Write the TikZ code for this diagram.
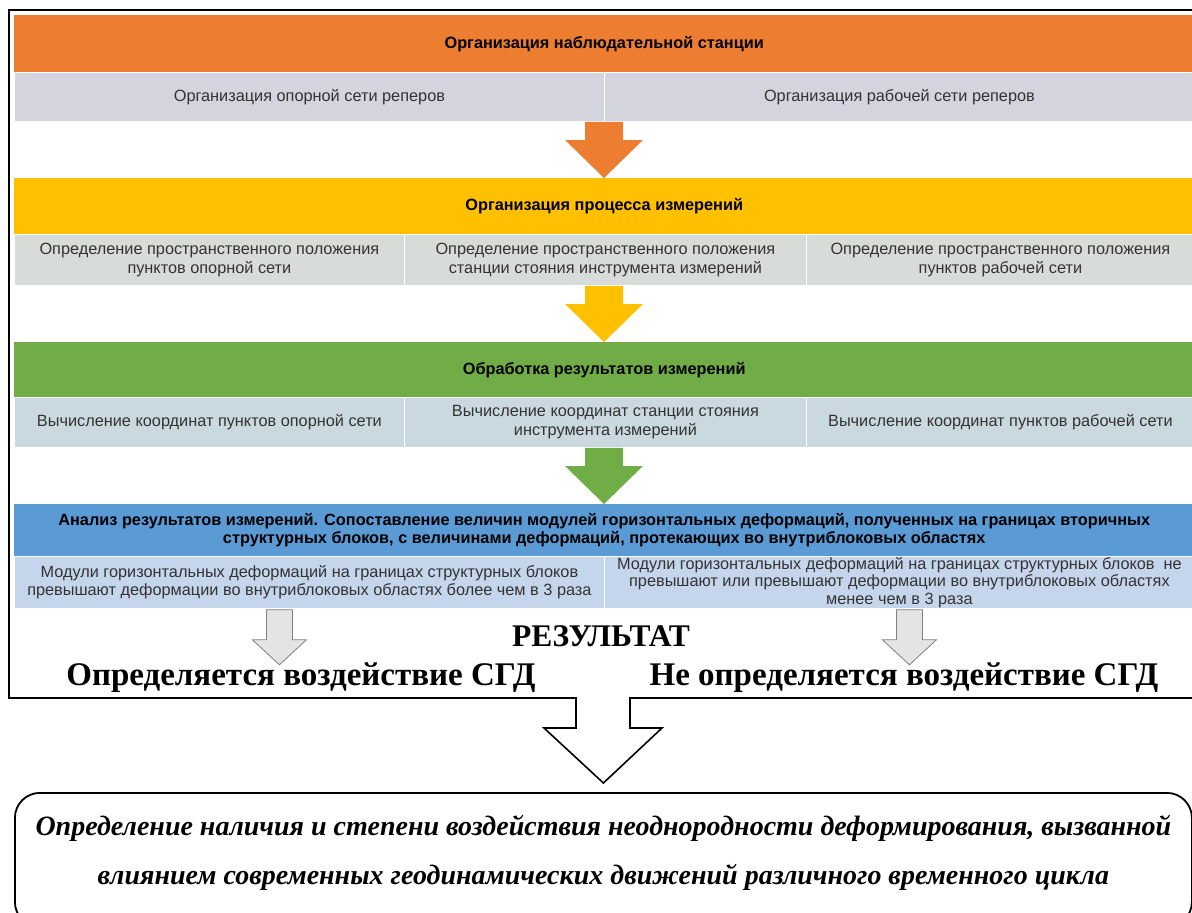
\documentclass[tikz,border=0pt]{standalone}
\usepackage{fontspec}
\setmainfont{Liberation Serif}
\setsansfont{Liberation Sans}
\usepackage{tikz}
\usetikzlibrary{calc}
\definecolor{orgorange}{HTML}{ED7D31}
\definecolor{orgyellow}{HTML}{FFC000}
\definecolor{orggreen}{HTML}{70AD47}
\definecolor{orgblue}{HTML}{5B9BD5}
\definecolor{rowlav}{HTML}{D3D4DD}
\definecolor{rowgrey}{HTML}{D8DCD9}
\definecolor{rowteal}{HTML}{CAD9E0}
\definecolor{rowblue}{HTML}{C5D6EC}
\definecolor{arrgrey}{HTML}{E4E4E4}
\tikzset{band/.style={anchor=north west, inner sep=0pt, minimum width=1180, align=center,
   font=\sffamily\bfseries\fontsize{16.3}{18.5}\selectfont},
 cell/.style={anchor=north west, draw=white, line width=0.8pt, inner sep=0pt, align=center,
   text=black!80, font=\sffamily\fontsize{16.3}{19}\selectfont},
 verdict/.style={font=\bfseries\fontsize{33}{36}\selectfont},
 smallarrow/.style={fill=arrgrey, draw=black!50, line width=0.8pt},
 frame/.style={draw=black, line width=1.6pt},
 }

\begin{document}
\begin{tikzpicture}[x=1pt, y=-1pt]
        \useasboundingbox (0,0) rectangle (1192,913);
        % stage 1
        \node[band, fill=orgorange, minimum height=57] (station) at (14,15) {Организация наблюдательной станции};
        \node[cell, fill=rowlav, minimum width=590, minimum height=49] (refnet) at (14,72) {Организация опорной сети реперов};
        \node[cell, fill=rowlav, minimum width=590, minimum height=49] (worknet) at (604,72) {Организация рабочей сети реперов};
        % stage 2
        \node[band, fill=orgyellow, minimum height=56] (procband) at (14,178) {Организация процесса измерений};
        \node[cell, fill=rowgrey, minimum width=390, minimum height=51] (refpos) at (14,234) {Определение пространственного положения\\пунктов опорной сети};
        \node[cell, fill=rowgrey, minimum width=402, minimum height=51] (stnpos) at (404,234) {Определение пространственного положения\\станции стояния инструмента измерений};
        \node[cell, fill=rowgrey, minimum width=388, minimum height=51] (workpos) at (806,234) {Определение пространственного положения\\пунктов рабочей сети};
        % stage 3
        \node[band, fill=orggreen, minimum height=55] (calcband) at (14,342) {Обработка результатов измерений};
        \node[cell, fill=rowteal, minimum width=390, minimum height=50] (refcalc) at (14,397) {Вычисление координат пунктов опорной сети};
        \node[cell, fill=rowteal, minimum width=402, minimum height=50] (stncalc) at (404,397) {Вычисление координат станции стояния\\инструмента измерений};
        \node[cell, fill=rowteal, minimum width=388, minimum height=50] (workcalc) at (806,397) {Вычисление координат пунктов рабочей сети};
        % stage 4
        \node[band, fill=orgblue, minimum height=52] (anband) at (14,504) {Анализ результатов измерений. Сопоставление величин модулей горизонтальных деформаций, полученных на границах вторичных\\структурных блоков, с величинами деформаций, протекающих во внутриблоковых областях};
        \node[cell, fill=rowblue, minimum width=590, minimum height=52, font=\sffamily\fontsize{16.3}{18}\selectfont] (exceed) at (14,556) {Модули горизонтальных деформаций на границах структурных блоков\\превышают деформации во внутриблоковых областях более чем в 3 раза};
        \node[cell, fill=rowblue, minimum width=590, minimum height=52, font=\sffamily\fontsize{16.3}{17.5}\selectfont] (notexceed) at (604,556) {Модули горизонтальных деформаций на границах структурных блоков\ \ не\\превышают или превышают деформации во внутриблоковых областях\\менее чем в 3 раза};
        % coloured arrows between stages
        \foreach \a/\b/\c in {refnet/procband/orgorange, stnpos/calcband/orgyellow, stncalc/anband/orggreen} {
            \coordinate (s) at (604,0 |- \a.south);
            \coordinate (t) at (604,0 |- \b.north);
            \fill[\c] ($(s)+(-19,0)$) -- ($(s)+(19,0)$) -- ($(t)+(19,-38)$) -- ($(t)+(39,-38)$)
                -- (t) -- ($(t)+(-39,-38)$) -- ($(t)+(-19,-38)$) -- cycle;
        }
        % result
        \node[font=\bfseries\fontsize{31.5}{33}\selectfont] (result) at (601,636) {РЕЗУЛЬТАТ};
        \node[verdict] (yes) at (301,678) {Определяется воздействие СГД};
        \node[verdict] (no) at (904,678) {Не определяется воздействие СГД};
        \foreach \a/\dx in {exceed/-30, notexceed/10} {
            \coordinate (p) at ($(\a.south)+(\dx,1)$);
            \draw[smallarrow] ($(p)+(-13,0)$) -- ($(p)+(13,0)$) -- ($(p)+(13,30)$) -- ($(p)+(27,30)$)
                -- ($(p)+(0,55)$) -- ($(p)+(-27,30)$) -- ($(p)+(-13,30)$) -- cycle;
        }
        % conclusion
        \node[anchor=north west, draw, line width=1.8pt, rounded corners=25, minimum width=1177, minimum height=134,
            inner sep=0pt, align=center, font=\bfseries\itshape\fontsize{28}{49}\selectfont] (concl) at (14,792)
            {Определение наличия и степени воздействия неоднородности деформирования, вызванной\\влиянием современных геодинамических движений различного временного цикла\rule[-21pt]{0pt}{21pt}};
        \draw[frame] (1200,10) -- (9,10) -- (9,698) -- (576,698) -- (576,728) -- (544,728)
            -- ($(concl.north)+(0,-9)$) -- (662,728) -- (630,728) -- (630,698) -- (1200,698);
    \end{tikzpicture}
\end{document}
